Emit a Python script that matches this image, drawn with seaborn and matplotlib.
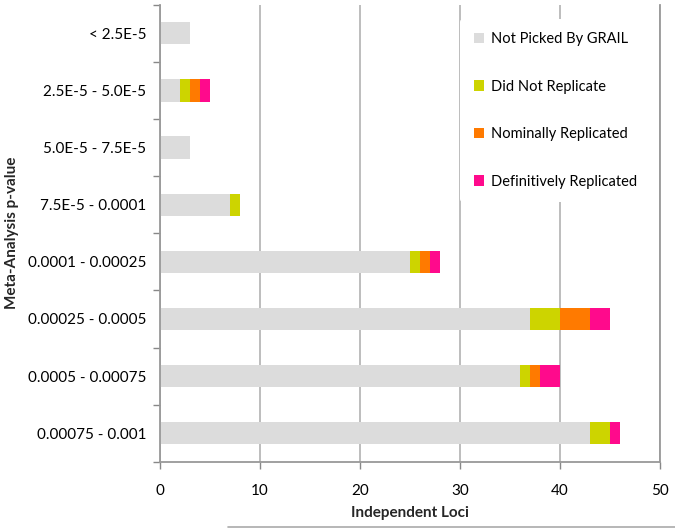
import pandas as pd
import matplotlib.pyplot as plt
import seaborn as sns
from matplotlib.lines import Line2D
from matplotlib.patches import Patch
from matplotlib.ticker import FixedLocator

# faixas de p-value (de cima para baixo)
faixas = ['< 2.5E-5', '2.5E-5 - 5.0E-5', '5.0E-5 - 7.5E-5', '7.5E-5 - 0.0001',
          '0.0001 - 0.00025', '0.00025 - 0.0005', '0.0005 - 0.00075', '0.00075 - 0.001']

nao_escolhido = [3, 2, 3, 7, 25, 37, 36, 43]
nao_replicou = [0, 1, 0, 1, 1, 3, 1, 2]
nominal = [0, 1, 0, 0, 1, 3, 1, 0]
definitivo = [0, 1, 0, 0, 1, 2, 2, 1]

series = ['Not Picked By GRAIL', 'Did Not Replicate', 'Nominally Replicated', 'Definitively Replicated']
cores = ['#dcdcdc', '#cdd400', '#ff7a00', '#ff0a8c']

df = pd.DataFrame({'faixa': faixas, series[0]: nao_escolhido, series[1]: nao_replicou,
                   series[2]: nominal, series[3]: definitivo})
acumulado = df[series].cumsum(axis=1)   # soma acumulada para empilhar

sns.set_style('white')
plt.rcParams['font.family'] = ['Lato', 'DejaVu Sans']
plt.rcParams['text.color'] = 'black'

fig = plt.figure(figsize=(6.75, 5.29), dpi=100)
ax = fig.add_axes([0.237, 0.127, 0.741, 0.864])

# desenha do total para o primeiro, cada barra por cima da anterior
for serie, cor in reversed(list(zip(series, cores))):
    sns.barplot(x=acumulado[serie], y=df['faixa'], orient='h', color=cor,
                width=0.39, linewidth=0, saturation=1, ax=ax)

ax.set_xlim(0, 50)
ax.set_xticks(range(0, 51, 10))
ax.yaxis.set_minor_locator(FixedLocator([i + 0.5 for i in range(-1, len(faixas))]))
ax.tick_params(axis='y', which='major', length=0, labelsize=11, pad=10, labelcolor='black')
ax.tick_params(axis='y', which='minor', length=5, color='#888888', width=1, left=True)
ax.tick_params(axis='x', length=5, color='#888888', width=1, bottom=True,
               labelsize=11, pad=11, labelcolor='black')

ax.grid(axis='x', color='#b8b8b8', linewidth=1.3)
ax.set_axisbelow(True)
for lado in ['left', 'bottom', 'right']:
    ax.spines[lado].set_color('#999999')
    ax.spines[lado].set_linewidth(1.3)
ax.spines['top'].set_visible(False)

ax.set_xlabel('Independent Loci', fontsize=11, fontweight='bold', labelpad=6)
ax.set_ylabel('Meta-Analysis p-value', fontsize=11, fontweight='bold', labelpad=6)

handles = [Patch(facecolor=c, edgecolor='none') for c in cores]
leg = ax.legend(handles, series, loc='upper right', bbox_to_anchor=(0.995, 0.985),
                fontsize=10.5, frameon=True, facecolor='white', edgecolor='none',
                framealpha=1, handlelength=0.7, handleheight=0.7, handletextpad=0.5,
                labelspacing=2.3, borderpad=0.9)
leg.set_zorder(3)
ax.spines['right'].set_zorder(4)

fig.add_artist(Line2D([0.338, 1.0], [0.004, 0.004], color='#aaaaaa', linewidth=1.2))

fig.savefig('out.png', dpi=100)
